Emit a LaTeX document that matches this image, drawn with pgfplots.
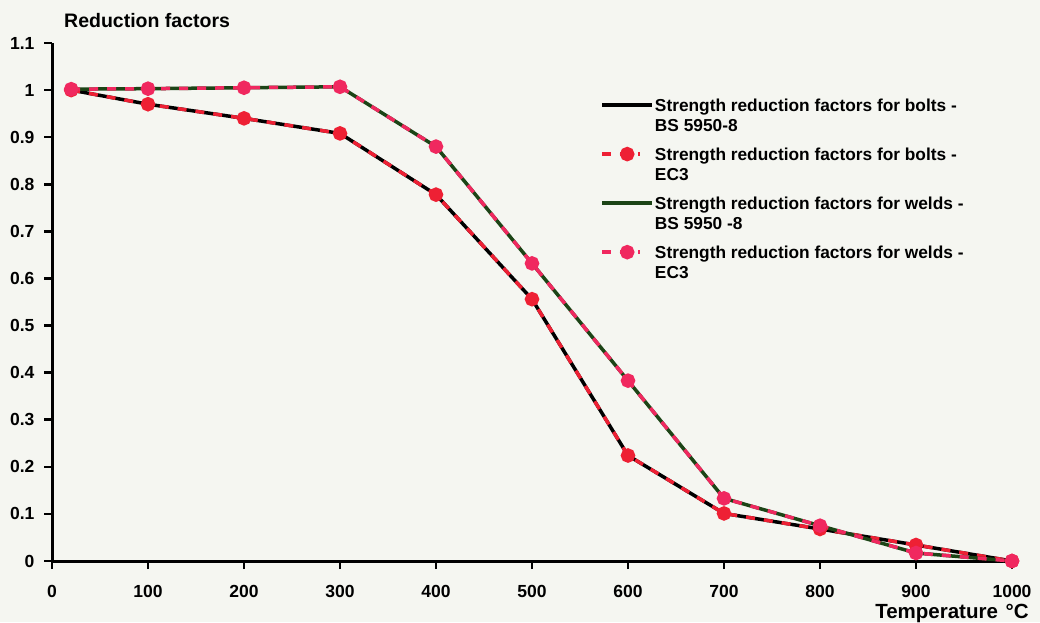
\documentclass[border=0pt]{standalone}
\usepackage{fontspec}
\setmainfont{Liberation Sans}
\usepackage{pgfplots}
\pgfplotsset{compat=1.18}
\definecolor{bg}{RGB}{245,246,241}
\definecolor{wgreen}{RGB}{28,68,22}
\definecolor{bred}{RGB}{238,32,52}
\definecolor{wpink}{RGB}{240,40,95}
\pgfplotsset{
  solidimg/.style={legend image code/.code={\draw[##1] (0pt,26pt) -- (50pt,26pt);}},
  dashimg/.style={legend image code/.code={\draw[##1,mark repeat=2,mark phase=2] plot coordinates {(0pt,26pt) (25pt,26pt) (38pt,26pt)}; \path (50pt,26pt);}},
}
\begin{document}
\begin{tikzpicture}[x=1pt,y=1pt]
\fill[bg] (0,0) rectangle (1040,622);
\useasboundingbox (0,0) rectangle (1040,622);
\begin{axis}[
  at={(52pt,61pt)}, anchor=south west, scale only axis,
  width=960pt, height=518pt,
  xmin=0, xmax=1000, ymin=0, ymax=1.1,
  axis lines*=left, clip=false,
  axis line style={line width=3pt, black},
  major tick style={line width=2.6pt, black},
  tick align=outside, major tick length=8pt,
  xtick={0,100,200,300,400,500,600,700,800,900,1000},
  ytick={0,0.1,0.2,0.3,0.4,0.5,0.6,0.7,0.8,0.9,1,1.1},
  tick label style={font=\fontsize{17.5}{20}\selectfont\bfseries},
  xticklabel style={yshift=-13pt},
  yticklabel style={xshift=-6pt, /pgf/number format/fixed, /pgf/number format/precision=1},
  /pgf/number format/assume math mode=true,
  /pgf/number format/1000 sep={},
  xlabel={Temperature\hspace{0.1em} °C},
  ylabel={Reduction factors},
  label style={font=\fontsize{19.5}{22}\selectfont\bfseries, inner sep=0pt},
  xlabel style={font=\fontsize{20.5}{22}\selectfont\bfseries, at={(axis description cs:0.9375,-0.1101)}, anchor=base},
  ylabel style={rotate=-90, at={(axis description cs:0.0125,1.029)}, anchor=base west},
  legend style={at={(axis description cs:0.568,0.899)}, anchor=north west,
    draw=none, fill=none, font=\fontsize{17.3}{20}\selectfont\bfseries,
    row sep=13pt, nodes={align=left, anchor=base west, inner sep=1pt},
    /tikz/every even column/.append style={column sep=2pt}},
]
\addplot[black, line width=3.5pt, solidimg]
  coordinates {(20,1) (100,0.97) (200,0.94) (300,0.908) (400,0.778) (500,0.556) (600,0.224) (700,0.101) (800,0.068) (900,0.034) (1000,0)};
\addlegendentry{Strength reduction factors for bolts -\\BS 5950-8}
\addplot[bred, line width=3.5pt, dash pattern=on 9pt off 9pt, mark=*, mark size=5.5pt, mark options={solid, fill=bred, draw=bred}, dashimg]
  coordinates {(20,1) (100,0.97) (200,0.94) (300,0.908) (400,0.778) (500,0.556) (600,0.224) (700,0.101) (800,0.068) (900,0.034) (1000,0)};
\addlegendentry{Strength reduction factors for bolts -\\EC3}
\addplot[wgreen, line width=3.5pt, solidimg]
  coordinates {(20,1.002) (100,1.003) (200,1.005) (300,1.007) (400,0.88) (500,0.632) (600,0.383) (700,0.133) (800,0.075) (900,0.017) (1000,0)};
\addlegendentry{Strength reduction factors for welds -\\BS 5950 -8}
\addplot[wpink, line width=3.5pt, dash pattern=on 9pt off 9pt, mark=*, mark size=5.5pt, mark options={solid, fill=wpink, draw=wpink}, dashimg]
  coordinates {(20,1.002) (100,1.003) (200,1.005) (300,1.007) (400,0.88) (500,0.632) (600,0.383) (700,0.133) (800,0.075) (900,0.017) (1000,0)};
\addlegendentry{Strength reduction factors for welds -\\EC3}
\end{axis}
\end{tikzpicture}
\end{document}
